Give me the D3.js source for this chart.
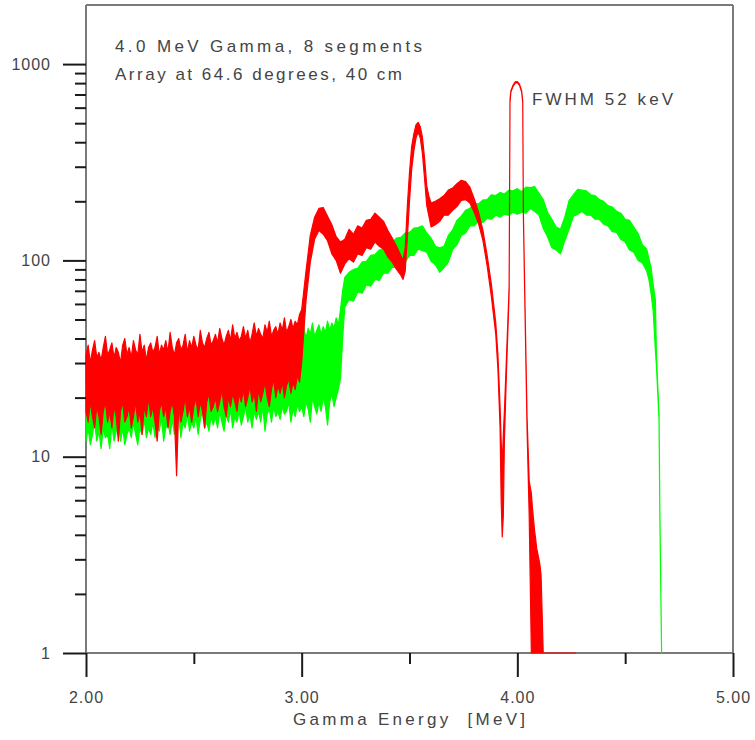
<!DOCTYPE html>
<html><head><meta charset="utf-8">
<script src="https://cdn.jsdelivr.net/npm/d3@7"></script>
<style>
body{margin:0;background:#fff}
svg{display:block}
text{font-family:"Liberation Sans",Arial,Helvetica,sans-serif;fill:#444}
</style>
</head><body>
<svg id="chart" width="755" height="740"></svg>
<script>
// ---------- data ----------
const xTickValues = [2, 3, 4, 5];
const xMinorValues = [2.5, 3.5, 4.5];
const yTickValues = [1, 10, 100, 1000];
const yMinorValues = [2,3,4,5,6,7,8,9,20,30,40,50,60,70,80,90,200,300,400,500,600,700,800,900];
const noteLines = ["4.0 MeV Gamma, 8 segments", "Array at 64.6 degrees, 40 cm"];
const peakNote = "FWHM 52 keV";
const xTitle = "Gamma Energy  [MeV]";

// red spectrum: energy [MeV], lower and upper envelope of counts
const redE = [
  2.00,2.01,2.02,2.03,2.04,2.05,2.06,2.07,2.08,2.09, 2.10,2.11,2.12,2.13,2.14,2.15,2.16,2.17,2.18,2.19,
  2.20,2.21,2.22,2.23,2.24,2.25,2.26,2.27,2.28,2.29, 2.30,2.31,2.32,2.33,2.34,2.35,2.36,2.37,2.38,2.39,
  2.40,2.41,2.42,2.43,2.44,2.45,2.46,2.47,2.48,2.49, 2.50,2.51,2.52,2.53,2.54,2.55,2.56,2.57,2.58,2.59,
  2.60,2.61,2.62,2.63,2.64,2.65,2.66,2.67,2.68,2.69, 2.70,2.71,2.72,2.73,2.74,2.75,2.76,2.77,2.78,2.79,
  2.80,2.81,2.82,2.83,2.84,2.85,2.86,2.87,2.88,2.89, 2.90,2.91,2.92,2.93,2.94,2.95,2.96,2.97,2.98,2.99,
  3.00,3.02,3.04,3.06,3.08,3.10,3.12,3.14,3.16,3.18,3.20,3.22,3.24,3.26,3.28,3.30,3.32,3.34,3.36,3.38,
  3.40,3.42,3.44,3.46,3.47,3.48,3.49,3.50,3.51,3.52,3.53,3.54,3.55,3.56,3.57,3.58,3.59,3.60,3.62,3.64,
  3.66,3.68,3.70,3.72,3.74,3.76,3.78,3.80,3.82,3.84,3.86,3.88,3.90,3.91,3.92,3.925,3.93,3.935,3.94,3.95,
  3.96,3.962,3.966,3.97,3.98,3.99,4.00,4.01,4.02,4.025,4.028,4.035,4.045,4.055,4.065,4.07,4.075,4.08,4.085,4.09,
  4.095,4.10,4.105,4.11,4.115,4.12,4.27];
const redLo = [
  17,15,19,16,14,18,16,13,17,19, 15,17,14,18,16,12,17,19,15,16,
  18,14,16,19,15,17,13,18,16,20, 16,18,15,12,17,19,16,18,14,17,
  19,16,8,18,15,17,20,16,18,15, 18,20,16,19,17,14,19,21,17,18,
  20,17,19,22,18,16,20,18,21,19, 17,21,19,22,18,20,23,19,21,17,
  22,19,21,24,20,18,22,25,20,23, 21,24,20,23,25,21,24,22,26,24,
  30,62,98,128,142,136,126,108,100,86,96,102,98,108,106,116,114,124,118,114,
  104,98,90,84,80,88,130,200,290,360,420,450,420,350,260,190,168,148,152,158,
  170,170,180,188,202,204,196,176,154,127,94,65,42,28,14,6,3.9,5,12,28,
  58,70,640,720,770,800,805,780,720,640,170,60,14,5,1,1,1,1,1,1,
  1,1,1,1,1,1,1];
const redHi = [
  33,37,30,35,39,32,34,31,36,41, 33,35,38,32,36,34,30,37,40,33,
  36,32,39,35,33,42,34,37,31,36, 38,34,36,41,33,37,35,39,34,43,
  36,33,38,40,35,37,42,34,39,36, 41,37,35,44,38,36,40,43,37,39,
  42,38,45,40,37,41,44,39,47,40, 43,39,41,46,40,44,38,42,48,41,
  45,42,40,47,43,49,41,44,46,42, 48,44,51,43,46,50,45,49,47,53,
  56,88,134,166,184,186,168,152,132,124,128,144,136,150,146,160,162,174,166,158,
  142,130,118,106,100,116,190,280,380,440,490,505,480,424,330,240,212,196,200,206,
  214,228,234,246,256,252,236,206,176,143,106,75,48,33,18,12,9,13,17,33,
  64,75,660,730,780,812,815,790,730,650,175,64,16,7.5,6.5,5.5,4.8,4.2,3.8,3.4,
  3.2,3.0,2.8,2.5,1.6,1,1];

// green spectrum: energy [MeV], lower and upper envelope of counts
const greenE = [
  2.00,2.01,2.02,2.03,2.04,2.05,2.06,2.07,2.08,2.09, 2.10,2.11,2.12,2.13,2.14,2.15,2.16,2.17,2.18,2.19,
  2.20,2.21,2.22,2.23,2.24,2.25,2.26,2.27,2.28,2.29, 2.30,2.31,2.32,2.33,2.34,2.35,2.36,2.37,2.38,2.39,
  2.40,2.41,2.42,2.43,2.44,2.45,2.46,2.47,2.48,2.49, 2.50,2.51,2.52,2.53,2.54,2.55,2.56,2.57,2.58,2.59,
  2.60,2.61,2.62,2.63,2.64,2.65,2.66,2.67,2.68,2.69, 2.70,2.71,2.72,2.73,2.74,2.75,2.76,2.77,2.78,2.79,
  2.80,2.81,2.82,2.83,2.84,2.85,2.86,2.87,2.88,2.89, 2.90,2.91,2.92,2.93,2.94,2.95,2.96,2.97,2.98,2.99,
  3.00,3.01,3.02,3.03,3.04,3.05,3.06,3.07,3.08,3.09, 3.10,3.11,3.12,3.13,3.14,3.15,3.16,3.17,3.18,
  3.19,3.20,3.22,3.24,3.26,3.28,3.30,3.32,3.34,3.36,3.38,3.40,3.42,3.44,3.46,3.48,3.50,3.52,3.54,3.56,
  3.58,3.60,3.62,3.64,3.66,3.68,3.70,3.72,3.74,3.76,3.78,3.80,3.82,3.84,3.86,3.88,3.90,3.92,3.94,3.96,
  3.98,4.00,4.02,4.04,4.06,4.08,4.10,4.12,4.14,4.16,4.18,4.20,4.22,4.24,4.26,4.28,4.30,4.32,4.34,4.36,
  4.38,4.40,4.42,4.44,4.46,4.48,4.50,4.52,4.54,4.56,4.58,4.60,4.61,4.62,4.63,4.64,4.645,4.657,4.661,4.669];
const greenLo = [
  12,14,11.5,13,15,12,13.5,11,14,12.5, 13,11,14.5,12,13.5,15,12,14,11.5,13,
  14,12.5,15,13,11.5,14,13,15.5,12.5,14, 13,15,12.5,14.5,13.5,16,12,14,15,13,
  15.5,13,14,16,12.5,15,14,16.5,13.5,15, 14,16,13,15.5,17,14,15,13.5,16,14.5,
  16,14,17,15,13.5,16.5,15,17.5,14,16, 15,17,14.5,16,18,15,16.5,14,17,15.5,
  17,15,18,13.5,16.5,17.5,15,18,16,17, 15.5,18,16.5,17,19,15,17.5,16,18.5,17,
  18,16,19,17.5,15,20,18,16.5,19,17, 20,18,14.5,19,21,18,20,22,25,
  40,58,63,62,69,68,75,74,80,79,86,86,92,92,99,98,106,106,114,112,
  110,99,95,87,92,98,114,120,134,138,150,150,158,156,164,162,170,166,172,170,
  176,172,176,174,184,178,170,146,132,116,113,108,126,144,168,172,178,170,170,162,
  162,153,150,140,139,128,124,113,110,100,97,88,80,68,55,35,29,15.5,4.8,1];
const greenHi = [
  23,20,26,22,19,25,21,24,20,27, 22,25,21,24,26,20,23,25,22,24,
  26,22,24,21,27,23,25,22,28,24, 25,28,23,26,24,29,25,27,23,28,
  26,29,24,27,30,25,28,26,31,27, 29,26,31,28,25,30,27,32,28,30,
  28,32,29,27,33,30,28,34,29,31, 33,29,35,31,30,34,32,36,30,33,
  35,31,37,33,36,32,38,34,36,39, 35,40,37,34,42,38,41,36,44,39,
  43,46,40,45,42,48,41,44,47,42, 46,43,49,44,48,45,51,47,56,
  70,82,87,90,91,98,99,106,107,113,115,122,123,130,131,138,139,146,147,150,
  138,130,118,116,118,134,143,160,168,180,184,195,194,203,204,216,214,222,218,228,
  226,232,224,236,235,238,220,204,176,162,148,144,166,202,216,230,228,226,216,214,
  204,200,190,187,178,174,162,160,148,137,120,114,102,92,75,63,33,16.5,5.2,1];

// ---------- layout ----------
const svg = d3.select("#chart");
const plotL = 86, plotR = 733, plotT = 5, plotB = 653;

const x = d3.scaleLinear().domain([2, 5]).range([plotL, plotR]);
const y = d3.scaleLog().domain([1, 2000]).range([plotB, plotT]);

function series(E, lo, hi) {
  return E.map((e, i) => ({e, lo: lo[i], hi: hi[i]}));
}
const area = d3.area()
  .x(d => x(d.e))
  .y0(d => y(d.lo))
  .y1(d => y(d.hi))
  .curve(d3.curveLinear);

// ---------- frame (drawn under the data) ----------
const frame = svg.append("g").attr("stroke", "#7a7a7a").attr("stroke-width", 2).attr("fill", "none");
frame.append("line").attr("x1", plotL).attr("x2", plotR).attr("y1", plotT).attr("y2", plotT);
frame.append("line").attr("x1", plotR).attr("x2", plotR).attr("y1", plotT).attr("y2", plotB);
frame.append("line").attr("x1", plotL).attr("x2", plotL).attr("y1", plotT).attr("y2", plotB);
frame.append("line").attr("x1", plotL).attr("x2", plotR).attr("y1", plotB).attr("y2", plotB);

// green first, red on top
svg.append("path")
  .datum(series(greenE, greenLo, greenHi))
  .attr("d", area)
  .attr("fill", "#00ff00")
  .attr("stroke", "#00ff00")
  .attr("stroke-width", 1.2)
  .attr("stroke-linejoin", "round");

svg.append("path")
  .datum(series(redE, redLo, redHi))
  .attr("d", area)
  .attr("fill", "#ff0000")
  .attr("stroke", "#ff0000")
  .attr("stroke-width", 1.2)
  .attr("stroke-linejoin", "round");

// ---------- axes ----------
function styleAxis(g) {
  g.select(".domain").remove();
  g.selectAll(".tick line").attr("stroke", "#1a1a1a").attr("stroke-width", 2);
  g.selectAll(".tick text")
    .attr("fill", "#444")
    .style("font-family", '"Liberation Sans", Arial, sans-serif')
    .style("font-size", "16px")
    .style("letter-spacing", "1px");
}

svg.append("g")
  .attr("transform", `translate(0,${plotB})`)
  .call(d3.axisBottom(x).tickValues(xTickValues).tickSize(24).tickPadding(15).tickFormat(d3.format(".2f")))
  .call(styleAxis);

svg.append("g")
  .attr("transform", `translate(0,${plotB})`)
  .call(d3.axisBottom(x).tickValues(xMinorValues).tickSize(11).tickFormat(""))
  .call(styleAxis);

svg.append("g")
  .attr("transform", `translate(${plotL},0)`)
  .call(d3.axisLeft(y).tickValues(yTickValues).tickSize(23).tickPadding(12).tickFormat(d3.format("d")))
  .call(styleAxis);

svg.append("g")
  .attr("transform", `translate(${plotL},0)`)
  .call(d3.axisLeft(y).tickValues(yMinorValues).tickSize(11).tickFormat(""))
  .call(styleAxis);

// ---------- texts ----------
const noteWidths = [307, 287];
const noteBase = [52, 80];
noteLines.forEach((t, i) => {
  svg.append("text")
    .attr("x", 115).attr("y", noteBase[i])
    .attr("textLength", noteWidths[i]).attr("lengthAdjust", "spacing")
    .style("font-size", "17px")
    .text(t);
});

svg.append("text")
  .attr("x", 532).attr("y", 105)
  .attr("textLength", 141).attr("lengthAdjust", "spacing")
  .style("font-size", "17px")
  .text(peakNote);

svg.append("text")
  .attr("x", 293).attr("y", 725)
  .attr("textLength", 232).attr("lengthAdjust", "spacing")
  .style("font-size", "17px")
  .style("white-space", "pre")
  .text(xTitle);
</script>
</body></html>
